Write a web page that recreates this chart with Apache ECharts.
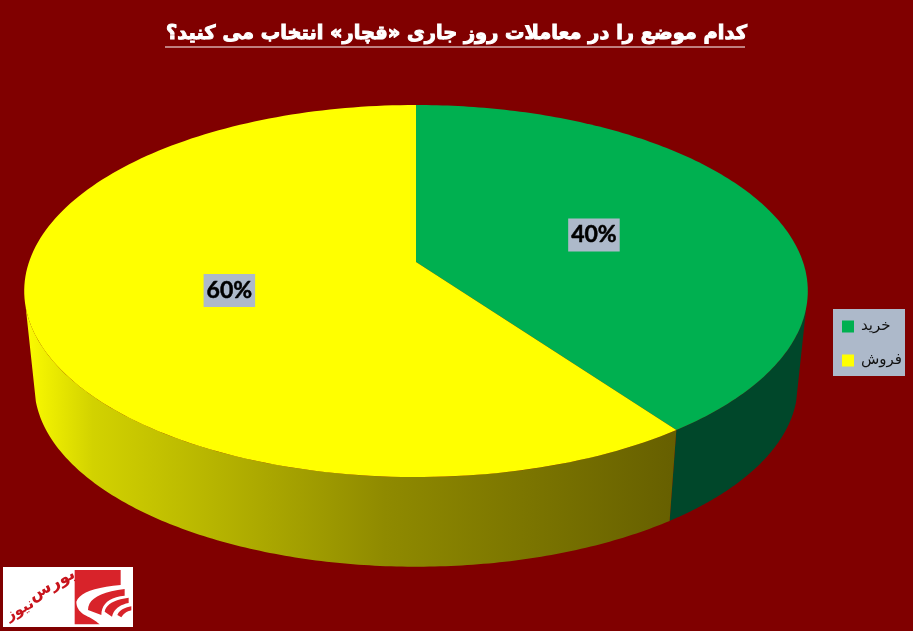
<!DOCTYPE html>
<html>
<head>
<meta charset="utf-8">
<style>html,body{margin:0;padding:0;background:#800000}#c{width:913px;height:631px}</style>
<script src="https://cdn.jsdelivr.net/npm/echarts@6/dist/echarts.min.js"></script>
</head>
<body>
<div id="c"></div>
<script>
const titleText = 'کدام موضع را در معاملات روز جاری «قچار» انتخاب می کنید؟';
const categories = ['خرید', 'فروش'];
const values = [40, 60];
const topColors = ['#00B050', '#FFFF00'];
const logoWords = ['بورس', 'نیوز'];

const total = values.reduce((a, b) => a + b, 0);
const starts = values.map((_, i) => values.slice(0, i).reduce((a, b) => a + b, 0));

// perspective projection of a unit disc
const K = 0.156;
function project(phi, r, apexY, A, B) {
  const u = r * Math.sin(phi), v = -r * Math.cos(phi), d = 1 - K * v;
  return [416 + A * u / d, apexY + B * v / d];
}
const topPt = (phi, r) => project(phi, r, 262, 387, 181.5);
const botPt = (phi) => project(phi, 1, 357, 377, 177);
const sideFrom = 104 * Math.PI / 180, sideTo = 256 * Math.PI / 180;
const sideFill = [
  '#00472A',
  new echarts.graphic.LinearGradient(28, 0, 678, 0, [
    { offset: 0, color: '#FAFA00' },
    { offset: 0.1, color: '#D2D200' },
    { offset: 0.55, color: '#8F8A00' },
    { offset: 1, color: '#665F00' }
  ], true)
];

function renderSlice(params, api) {
  const i = params.seriesIndex;
  const a0 = starts[i] / total * 2 * Math.PI;
  const a1 = (starts[i] + api.value(0)) / total * 2 * Math.PI;
  const N = 160, pie = [topPt(a0, 0)];
  for (let k = 0; k <= N; k++) pie.push(topPt(a0 + (a1 - a0) * k / N, 1));
  const s0 = Math.max(a0, sideFrom), s1 = Math.min(a1, sideTo), topArc = [], botArc = [];
  for (let k = 0; k <= N; k++) {
    const p = s0 + (s1 - s0) * k / N;
    topArc.push(topPt(p, 1));
    botArc.unshift(botPt(p));
  }
  const mid = (a0 + a1) / 2, lp = topPt(mid, 0.495);
  return {
    type: 'group',
    children: [
      { type: 'polygon', shape: { points: topArc.concat(botArc) }, style: { fill: sideFill[i] } },
      { type: 'polygon', shape: { points: pie }, style: { fill: topColors[i] } },
      { type: 'text', z2: 10, style: {
          text: api.value(0) + '%', x: lp[0], y: lp[1], align: 'center', verticalAlign: 'middle',
          fontFamily: 'Lato, "Open Sans", sans-serif', fontWeight: 'bold', fontSize: 23, fill: '#000',
          stroke: '#000', lineWidth: 0.5,
          backgroundColor: '#ADB9CA', padding: [5, 3, 5, 3]
      } }
    ]
  };
}

// logo outline helper: runs of quadratic curves given as [cx, cy, x, y] after a start point
function outline(start, segs) {
  const pts = [start];
  let cur = start;
  segs.forEach(s => {
    if (s.length === 2) { pts.push(s); cur = s; return; }
    for (let t = 0.1; t <= 1.001; t += 0.1) {
      const m = 1 - t;
      pts.push([m * m * cur[0] + 2 * m * t * s[0] + t * t * s[2], m * m * cur[1] + 2 * m * t * s[1] + t * t * s[3]]);
    }
    cur = [s[2], s[3]];
  });
  return pts;
}
const logoRed = '#D8232A';
const logoShapes = [
  outline([20, 15], [[158, 15], [158, 60], [40, 70, 25, 110], [25, 140, 60, 155], [80, 165, 95, 178], [20, 178]]),
  outline([60, 135], [[60, 85, 170, 72], [170, 92], [100, 100, 100, 150]]),
  outline([110, 140], [[115, 108, 182, 98], [182, 114], [140, 122, 132, 155]]),
  outline([148, 150], [[155, 130, 190, 124], [190, 136], [170, 140, 160, 157]])
];

const chart = echarts.init(document.getElementById('c'), null, { renderer: 'canvas' });
chart.setOption({
  animation: false,
  backgroundColor: '#800000',
  title: {
    text: titleText, left: 'center', top: 19,
    textStyle: { color: '#fff', fontFamily: '"DejaVu Sans"', fontWeight: 'bold', fontSize: 19.4,
      textBorderColor: '#fff', textBorderWidth: 1 }
  },
  legend: {
    data: categories, orient: 'vertical', left: 833, top: 309,
    backgroundColor: '#ADB9CA', padding: [10, 3, 8, 9],
    icon: 'rect', itemWidth: 12, itemHeight: 12, itemGap: 19, selectedMode: false,
    textStyle: { color: '#111', fontFamily: '"DejaVu Sans"', fontSize: 15, padding: [0, 0, 0, 2] }
  },
  series: categories.map((name, i) => ({
    type: 'custom', name, coordinateSystem: 'none', silent: true,
    itemStyle: { color: topColors[i] },
    data: [[values[i]]], renderItem: renderSlice
  })),
  graphic: [
    { type: 'line', shape: { x1: 165, y1: 47, x2: 745, y2: 47 }, style: { stroke: '#fff', lineWidth: 1 } },
    { type: 'rect', shape: { x: 3, y: 567, width: 130, height: 60 }, style: { fill: '#fff' } },
    { type: 'group', x: 68, y: 565, scaleX: 1 / 3, scaleY: 1 / 3,
      children: logoShapes.map(points => ({ type: 'polygon', shape: { points }, style: { fill: logoRed } })) },
    { type: 'text', rotation: 0.5, x: 52, y: 585, style: { text: logoWords[0], align: 'center', verticalAlign: 'middle', font: 'bold 17px "DejaVu Sans"', fill: '#C8141C' } },
    { type: 'text', rotation: 0.5, x: 20, y: 610, style: { text: logoWords[1], align: 'center', verticalAlign: 'middle', font: 'bold 15px "DejaVu Sans"', fill: '#C8141C' } }
  ]
});
</script>
</body>
</html>
